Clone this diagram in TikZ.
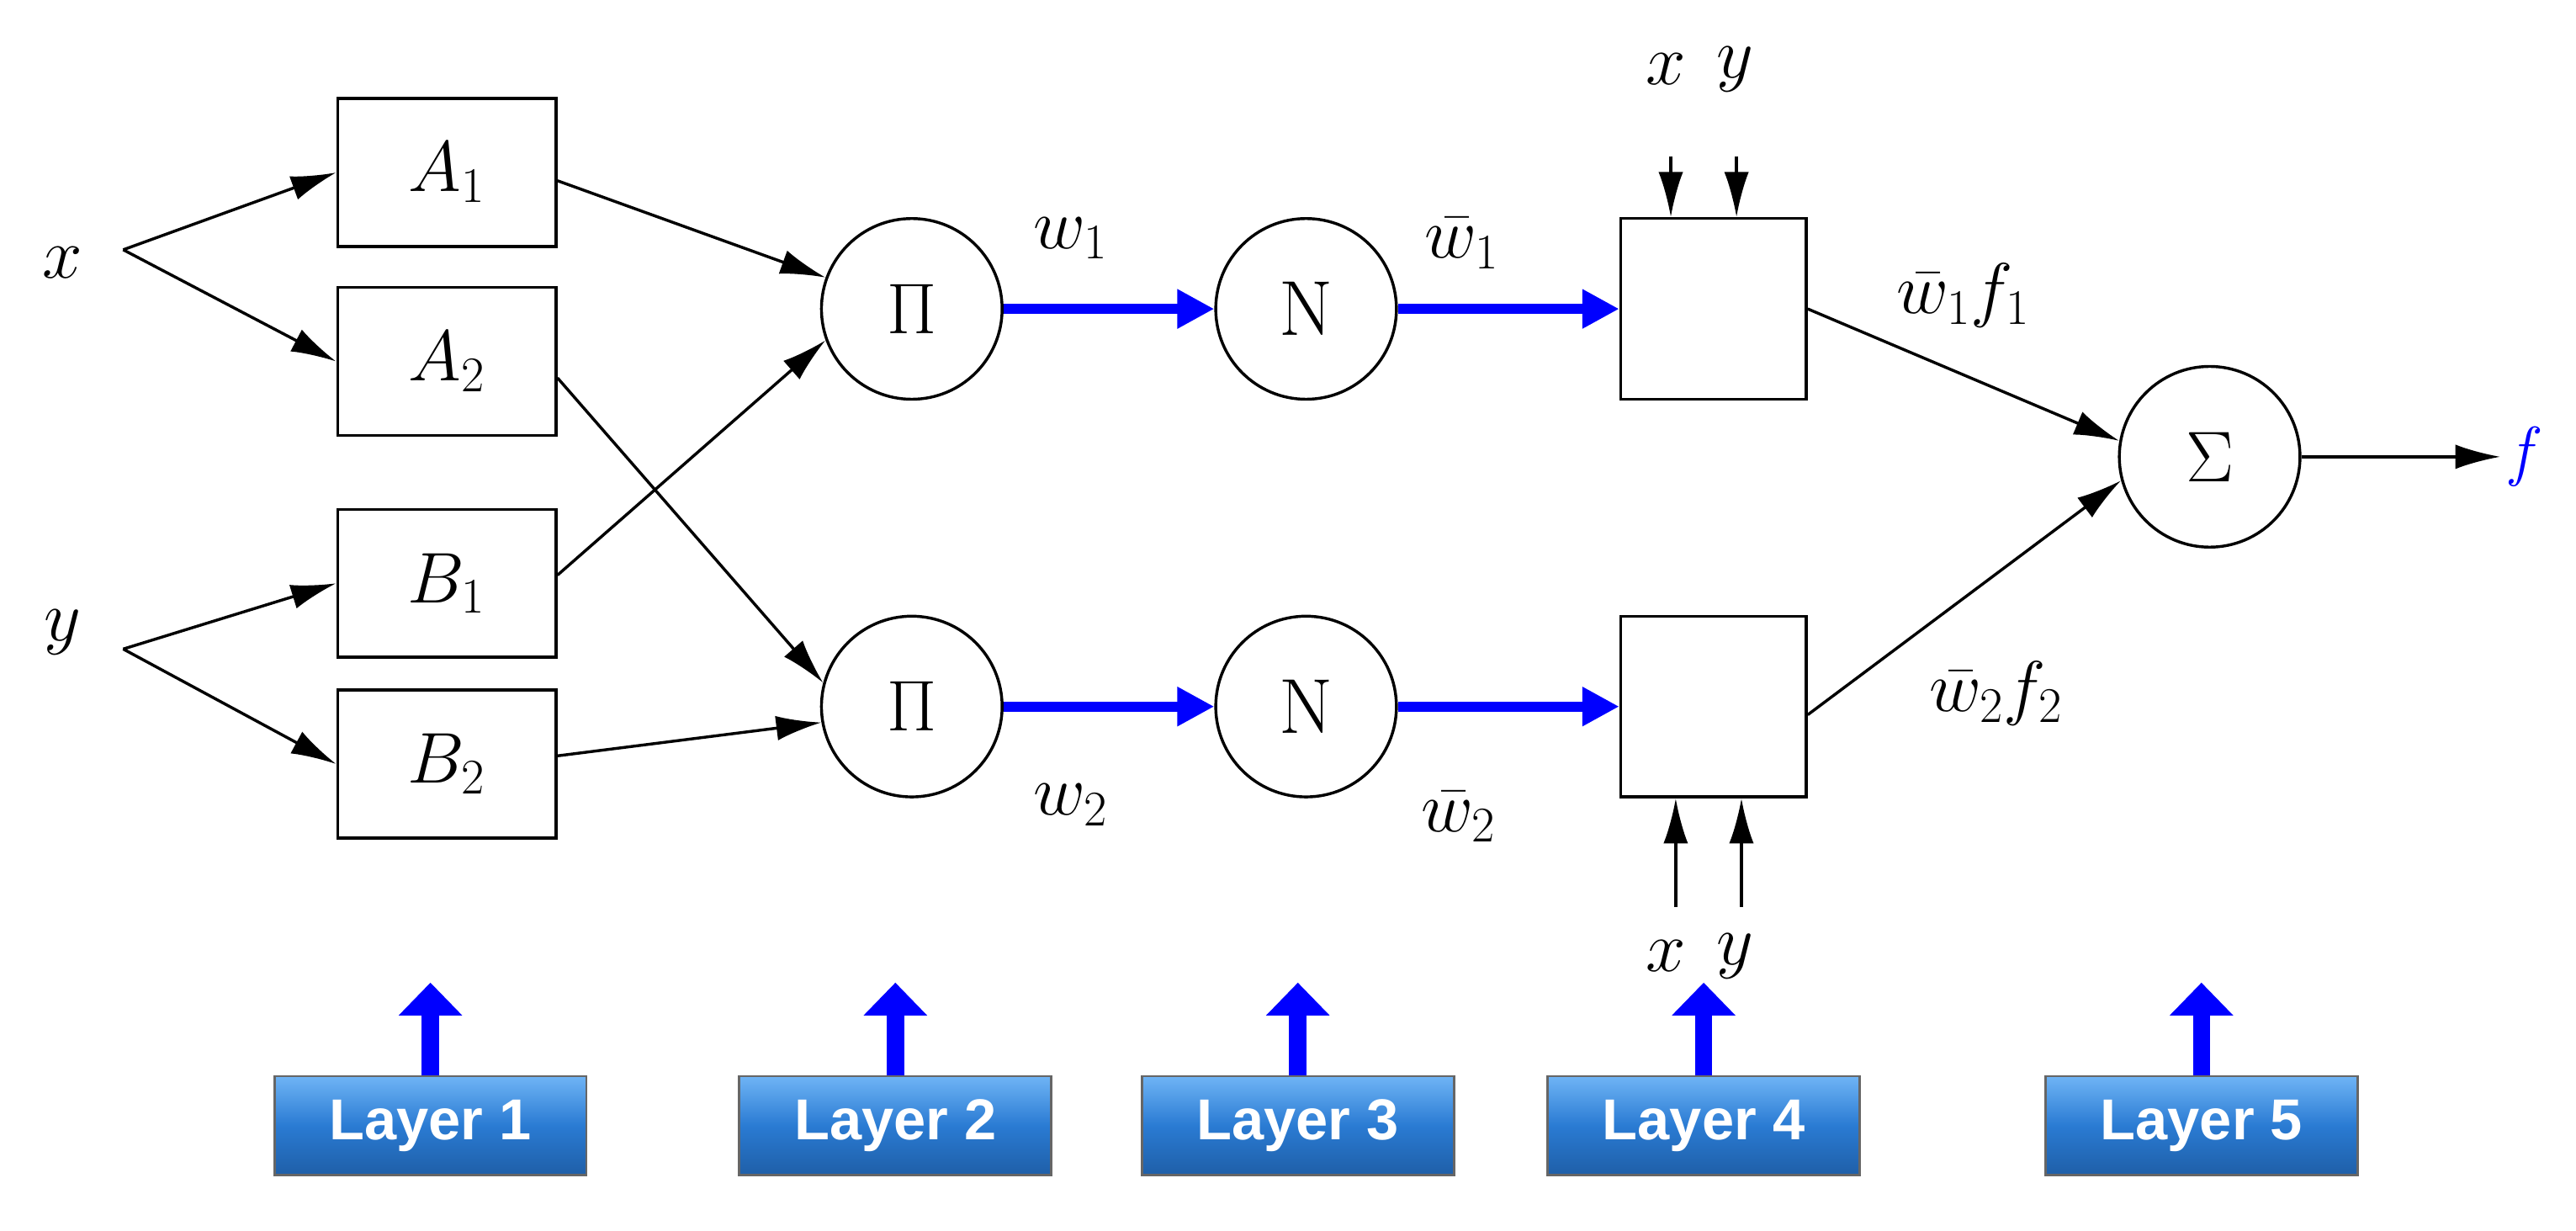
\documentclass[tikz,border=0pt]{standalone}
\usepackage{fontspec}
\newfontfamily\btnfont{Liberation Sans}
\usetikzlibrary{arrows.meta}
\definecolor{btnmid}{HTML}{2A7BD3}
\definecolor{btntop}{HTML}{6FB4F5}
\definecolor{btnbot}{HTML}{1F5FA8}
\begin{document}
\begin{tikzpicture}[x=0.02cm,y=-0.02cm,
  lbl/.style={font=\fontsize{23}{27}\selectfont},
  box/.style={draw,line width=1pt,minimum width=2.66cm,minimum height=1.8cm,inner sep=0pt,font=\fontsize{23}{27}\selectfont},
  sq/.style={draw,line width=1pt,minimum width=2.26cm,minimum height=2.2cm,inner sep=0pt},
  circ/.style={draw,circle,line width=1pt,minimum size=2.2cm,inner sep=0pt,font=\fontsize{27}{31}\selectfont},
  arr/.style={line width=1pt,-{Latex[length=0.55cm,width=0.3cm]}},
  barr/.style={blue,line width=3.5pt,-{Triangle[length=0.45cm,width=0.45cm]}},
  upa/.style={blue,line width=6pt,-{Triangle[length=0.4cm,width=0.75cm]}},
  btn/.style={draw=black!60,line width=0.8pt,top color=btntop,bottom color=btnbot,middle color=btnmid,minimum width=3.8cm,minimum height=1.2cm,text=white,font=\btnfont\bfseries\fontsize{20}{23}\selectfont}]
\useasboundingbox (0,0) rectangle (1568,749);
% inputs
\node[lbl] (x) at (38,160) {$x$};
\node[lbl] (y) at (38,385) {$y$};
\coordinate (fx) at (75,152);
\coordinate (fy) at (75,395);
% layer 1
\node[box] (A1) at (272,105) {$A_1$};
\node[box] (A2) at (272,220) {$A_2$};
\node[box] (B1) at (272,355) {$B_1$};
\node[box] (B2) at (272,465) {$B_2$};
\draw[arr] (fx) -- (A1.west);
\draw[arr] (fx) -- (A2.west);
\draw[arr] (fy) -- (B1.west);
\draw[arr] (fy) -- (B2.west);
% layer 2,3
\node[circ] (P1) at (555,188) {$\Pi$};
\node[circ] (P2) at (555,430) {$\Pi$};
\node[circ] (N1) at (795,188) {N};
\node[circ] (N2) at (795,430) {N};
\draw[arr] ([yshift=-0.1cm]A1.east) -- (P1.160);
\draw[arr] ([yshift=-0.2cm]A2.east) -- (P2.165);
\draw[arr] ([yshift=0.1cm]B1.east) -- (P1.200);
\draw[arr] ([yshift=0.1cm]B2.east) -- (P2.190);
\draw[barr] (P1.east) -- (N1.west);
\draw[barr] (P2.east) -- (N2.west);
\node[lbl] (w1) at (652,145) {$w_1$};
\node[lbl] (w2) at (652,490) {$w_2$};
% layer 4
\node[sq] (S1) at (1043,188) {};
\node[sq] (S2) at (1043,430) {};
\draw[barr] (N1.east) -- (S1.west);
\draw[barr] (N2.east) -- (S2.west);
\node[lbl] (v1) at (890,148) {$\bar w_1$};
\node[lbl] (v2) at (888,497) {$\bar w_2$};
\node[lbl] (tx) at (1014,42) {$x$};
\node[lbl] (ty) at (1056,42) {$y$};
\coordinate (tx0) at (1017,95);
\coordinate (ty0) at (1057,95);
\draw[arr] (tx0) -- (tx0 |- S1.north);
\draw[arr] (ty0) -- (ty0 |- S1.north);
\node[lbl] (bx) at (1014,582) {$x$};
\node[lbl] (by) at (1056,582) {$y$};
\coordinate (bx0) at (1020,552);
\coordinate (by0) at (1060,552);
\draw[arr] (bx0) -- (bx0 |- S2.south);
\draw[arr] (by0) -- (by0 |- S2.south);
% layer 5
\node[circ] (Sg) at (1345,278) {$\Sigma$};
\draw[arr] (S1.east) -- (Sg.170);
\draw[arr] ([yshift=-0.1cm]S2.east) -- (Sg.195);
\node[lbl] (l1) at (1195,180) {$\bar w_1 f_1$};
\node[lbl] (l2) at (1215,422) {$\bar w_2 f_2$};
\node[lbl,text=blue,anchor=west] (f) at (1522,278) {$\mathbf{\mathit{f}}$};
\draw[arr] (Sg.east) -- (f.west);
% layer buttons
\foreach \i/\xx in {1/262,2/545,3/790,4/1037,5/1340}{
  \node[btn] (L\i) at (\xx,685) {Layer \i};
  \coordinate (U\i) at (\xx,598);
  \draw[upa] (L\i.north) -- (U\i);
}
\end{tikzpicture}
\end{document}
